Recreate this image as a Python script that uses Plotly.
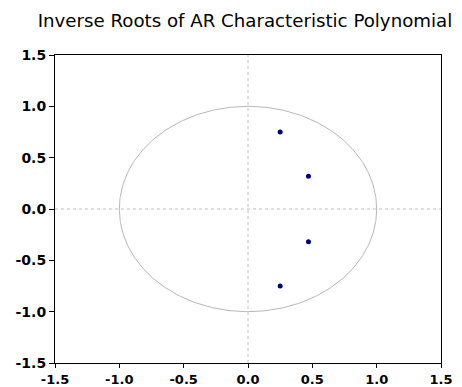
import numpy as np
import plotly.graph_objects as go

# Inverse roots
root_re = [0.25, 0.47, 0.47, 0.25]
root_im = [0.75, 0.32, -0.32, -0.75]
unit_radius = 1.0
tick_vals = [-1.5, -1.0, -0.5, 0.0, 0.5, 1.0, 1.5]
tick_text = ["-1.5", "-1.0", "-0.5", "0.0", "0.5", "1.0", "1.5"]

theta = np.linspace(0, 2 * np.pi, 361)
fig = go.Figure()
fig.add_trace(go.Scatter(x=unit_radius * np.cos(theta), y=unit_radius * np.sin(theta),
                         mode="lines", line=dict(color="#b8b8b8", width=1),
                         hoverinfo="skip", showlegend=False))
fig.add_trace(go.Scatter(x=root_re, y=root_im, mode="markers",
                         marker=dict(color="#000080", size=5, symbol="circle"),
                         showlegend=False))

fig.add_hline(y=0, line=dict(color="#c0c0c0", width=1, dash="dot"))
fig.add_vline(x=0, line=dict(color="#c0c0c0", width=1, dash="dot"))

axis_common = dict(range=[-1.5, 1.5], tickvals=tick_vals, ticktext=tick_text,
                   showgrid=False, zeroline=False, showline=True, linecolor="black",
                   linewidth=1, mirror=True, ticks="outside", tickwidth=1,
                   tickcolor="black", automargin=False)
fig.update_xaxes(**axis_common, ticklen=4,
                 tickfont=dict(family="DejaVu Sans", size=13, color="black", weight="bold"))
fig.update_yaxes(**axis_common, ticklen=5,
                 tickfont=dict(family="DejaVu Sans", size=14, color="black", weight="bold"))

# page body has an 8px margin, so the figure is sized to fit the 462x387 window
fig.update_layout(
    width=454, height=379,
    margin=dict(l=47, r=21, t=47, b=24),
    paper_bgcolor="white", plot_bgcolor="white",
    title=dict(text="Inverse Roots of AR Characteristic Polynomial",
               x=0.522, xanchor="center", y=0.966, yanchor="middle",
               font=dict(family="DejaVu Sans", size=18.2, color="black")),
)
fig.write_html("out.html")
